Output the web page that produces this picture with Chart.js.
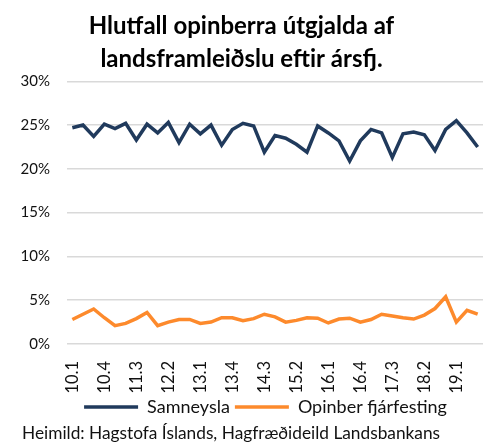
<!DOCTYPE html>
<html>
<head>
<meta charset="utf-8">
<script src="https://cdn.jsdelivr.net/npm/chart.js@4.4.1/dist/chart.umd.min.js"></script>
<style>
	html, body { margin: 0; padding: 0; background: #fff; }
	#wrap { width: 496px; height: 443px; position: relative; }
</style>
</head>
<body>
<div id="wrap"><canvas id="myChart"></canvas></div>
<script>
// ársfjórðungar 2010.1 - 2019.3
const quarters = [];
for (let y = 10; y <= 19; y++) {
	for (let q = 1; q <= 4; q++) {
		if (y === 19 && q === 4) break;
		quarters.push(`${y}.${q}`);
	}
}

const seriesNames = ["Samneysla", "Opinber fjárfesting"];

const samneysla = [
	24.7, 25.0, 23.7, 25.1, 24.6, 25.2, 23.3, 25.1, 24.1, 25.3,
	23.0, 25.1, 24.0, 25.0, 22.7, 24.5, 25.2, 24.9, 21.9, 23.8,
	23.5, 22.8, 21.9, 24.9, 24.1, 23.2, 20.9, 23.2, 24.5, 24.1,
	21.3, 24.0, 24.2, 23.9, 22.1, 24.5, 25.5, 24.1, 22.5,
];

const fjarfesting = [
	2.8, 3.4, 4.0, 3.0, 2.1, 2.35, 2.9, 3.6, 2.1, 2.5,
	2.8, 2.8, 2.35, 2.5, 3.0, 3.0, 2.65, 2.9, 3.4, 3.1,
	2.5, 2.7, 3.0, 2.95, 2.4, 2.85, 2.95, 2.5, 2.8, 3.4,
	3.2, 3.0, 2.85, 3.3, 4.05, 5.4, 2.5, 3.85, 3.4,
];

const yTicks = [0, 5, 10, 15, 20, 25, 30];
const sourceText = "Heimild: Hagstofa Íslands, Hagfræðideild Landsbankans";

const FONT = "Lato, 'Open Sans', sans-serif";
const TEXT = "#111";

const footerPlugin = {
	id: "footerText",
	afterLayout(chart) {
		// skjóta skýringunni aðeins til hægri eins og í fyrirmyndinni
		chart.legend.left += 48;
	},
	afterDraw(chart) {
		const ctx = chart.ctx;
		ctx.save();
		ctx.font = `17.3px ${FONT}`;
		ctx.fillStyle = TEXT;
		ctx.textBaseline = "alphabetic";
		ctx.textAlign = "left";
		ctx.fillText(sourceText, 22, 439);
		ctx.restore();
	},
};

function initChart() {
	const ctx = document.getElementById("myChart");

	return new Chart(ctx, {
		type: "line",
		data: {
			labels: quarters,
			datasets: [
				{
					label: seriesNames[0],
					data: samneysla,
					borderColor: "#203a5c",
					backgroundColor: "#203a5c",
					borderWidth: 3.5,
					pointRadius: 0,
					tension: 0,
				},
				{
					label: seriesNames[1],
					data: fjarfesting,
					borderColor: "#fd8a2c",
					backgroundColor: "#fd8a2c",
					borderWidth: 3.5,
					pointRadius: 0,
					tension: 0,
				},
			],
		},
		options: {
			responsive: true,
			maintainAspectRatio: false,
			animation: false,
			layout: {
				padding: { left: 0, right: 13, top: 0, bottom: 17 },
			},
			plugins: {
				title: {
					display: true,
					text: ["Hlutfall opinberra útgjalda af", "landsframleiðslu eftir ársfj."],
					font: { family: FONT, size: 24, weight: "bold", lineHeight: 1.36 },
					color: "#000",
					padding: { top: 10, bottom: 6 },
				},
				legend: {
					position: "bottom",
					labels: {
						usePointStyle: true,
						pointStyle: "line",
						pointStyleWidth: 54,
						boxHeight: 14,
						font: { family: FONT, size: 18 },
						color: TEXT,
						padding: 5,
					},
				},
				tooltip: { enabled: false },
			},
			scales: {
				x: {
					offset: true,
					afterFit: (scale) => {
						scale.height = 49;
					},
					grid: { display: false },
					border: { display: false },
					ticks: {
						autoSkip: false,
						maxRotation: 90,
						minRotation: 90,
						padding: 9,
						color: TEXT,
						font: { family: FONT, size: 16.5 },
						callback: function (value, index) {
							return index % 3 === 0 ? quarters[index] : null;
						},
					},
				},
				y: {
					min: yTicks[0],
					max: yTicks[yTicks.length - 1],
					afterBuildTicks: (scale) => {
						scale.ticks = yTicks.map((v) => ({ value: v }));
					},
					afterFit: (scale) => {
						scale.width = 67;
					},
					grid: { color: "#d9d9d9", lineWidth: 1.5, drawTicks: false },
					border: { display: false },
					ticks: {
						padding: 17,
						color: TEXT,
						font: { family: FONT, size: 15 },
						callback: (value) => `${value}%`,
					},
				},
			},
		},
		plugins: [footerPlugin],
	});
}

initChart();
</script>
</body>
</html>
